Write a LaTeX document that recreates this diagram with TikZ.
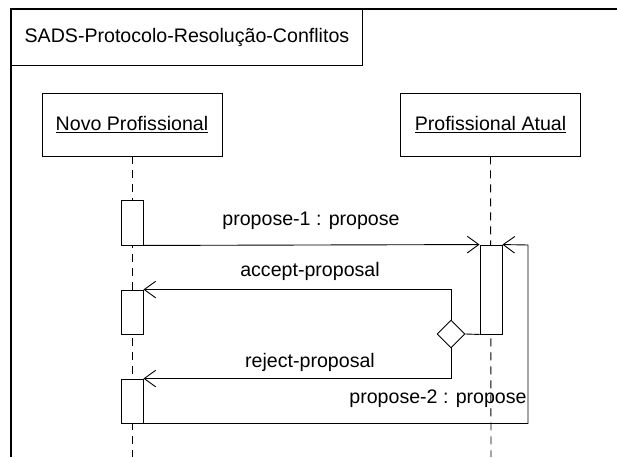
\documentclass[tikz,border=0pt]{standalone}
\usepackage{fontspec}
\setmainfont{Liberation Sans}
\usetikzlibrary{arrows.meta,shapes.geometric}
\begin{document}
\begin{tikzpicture}[x=1pt,y=-1pt,
  font=\fontsize{19.6}{23}\selectfont,
  frameline/.style={line width=1.6pt, line join=miter},
  box/.style={draw, line width=0.9pt, inner sep=0pt},
  actor/.style={box, minimum width=180pt, minimum height=63pt},
  actbox/.style={draw, fill=white, line width=0.9pt, minimum width=22pt, inner sep=0pt},
  lifeline/.style={line width=0.9pt, dash pattern=on 8pt off 6pt},
  msg/.style={line width=0.9pt},
  arr/.style={-{Straight Barb[length=11.5pt,width=16.6pt]}},
  lbl/.style={inner sep=0pt},
  choice/.style={diamond, draw, fill=white, line width=0.9pt, minimum width=28pt, minimum height=28pt, inner sep=0pt}
]
\useasboundingbox (0,0) rectangle (617,457);
% frame
\coordinate (fbl) at (11,457);
\coordinate (ftl) at (11,9);
\coordinate (ftr) at (617,9);
\draw[frameline] (fbl) -- (ftl) -- (ftr);
\node[box, anchor=north west, minimum width=351pt, minimum height=56pt] (title) at (11,9) {SADS-Protocolo-Resolução-Conflitos};

% actors
\node[actor] (novo) at (132,124.5) {\underline{Novo Profissional}};
\node[actor] (atual) at (490.5,124.5) {\underline{Profissional Atual}};

% lifelines
\coordinate (nend) at (132,457);
\coordinate (aend) at (491,457);
\draw[lifeline] (novo.south) -- (nend);
\draw[lifeline] (atual.south) -- (aend);

% activations
\node[actbox, minimum height=45pt] (a1) at (132,222.5) {};
\node[actbox, minimum height=44pt] (a2) at (132,312) {};
\node[actbox, minimum height=44pt] (a3) at (132,401) {};
\node[actbox, minimum height=89pt] (aa) at (491,289.5) {};

% decision
\node[choice] (d) at (451,334) {};
\draw[msg] (d.east) -- (aa.south west);

% messages
\draw[msg, arr] (a1.south east) -- (aa.north west);
\draw[msg, arr] (d.north) |- (a2.north east);
\draw[msg, arr] (d.south) |- (a3.north east);
\coordinate (c2) at (528,245);
\draw[msg, arr] (a3.south east) -| (c2) -- (aa.north east);

% labels
\node[lbl] (l1) at (311,220.5) {propose-1 : propose};
\node[lbl] (l2) at (310,271) {accept-proposal};
\node[lbl] (l3) at (310,362.5) {reject-proposal};
\node[lbl] (l4) at (438,399) {propose-2 : propose};
\end{tikzpicture}
\end{document}
